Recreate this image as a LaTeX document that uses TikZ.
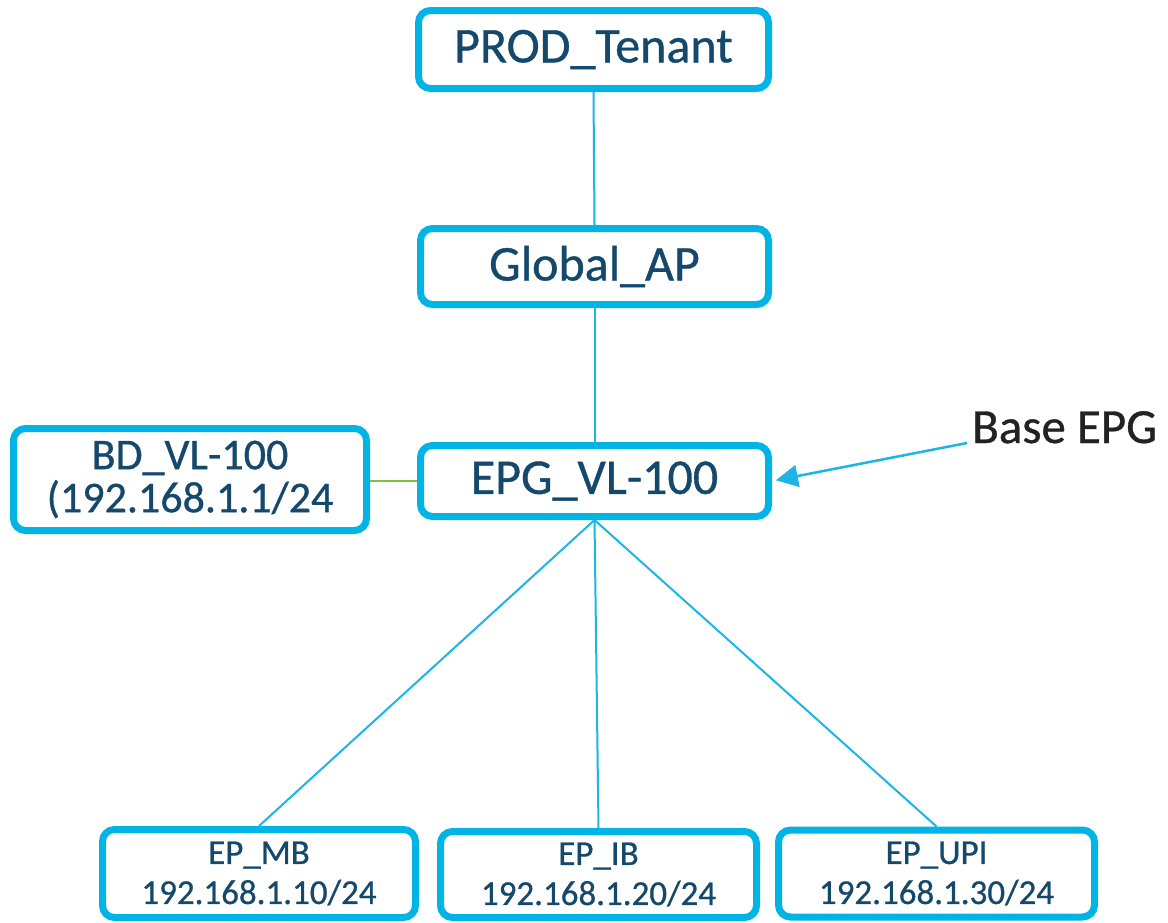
\documentclass[tikz,border=0pt]{standalone}
\usepackage{fontspec}
\setmainfont{Carlito}
\newfontfamily\heavyfont{Carlito}[FakeBold=0.7]
\usetikzlibrary{arrows.meta}
\definecolor{boxcyan}{HTML}{00B4E6}
\definecolor{linecyan}{HTML}{1CB5E6}
\definecolor{navytext}{HTML}{15496C}
\definecolor{linkgreen}{HTML}{7CC242}
\definecolor{labelgray}{HTML}{222222}
\tikzset{
  nodebox/.style={draw=boxcyan, line width=7pt, rounded corners=12pt, inner sep=0pt,
    text=navytext, align=center, fill=white},
  bigtext/.style={font=\heavyfont\fontsize{50}{54}\selectfont},
  bdtext/.style={font=\heavyfont\fontsize{44}{43}\selectfont},
  eptext/.style={font=\heavyfont\fontsize{35}{40}\selectfont},
  link/.style={draw=linecyan, line width=2pt},
  greenlink/.style={draw=linkgreen, line width=2pt},
}
\begin{document}
\begin{tikzpicture}[x=1pt,y=-1pt]
\useasboundingbox[fill=white] (0,0) rectangle (1168,922);
\node[nodebox,bigtext,minimum width=350pt,minimum height=78pt] (prod) at (593.5,49.5) {PROD\_Tenant};
\node[nodebox,bigtext,minimum width=348pt,minimum height=76pt] (global) at (594.5,266.5) {Global\_AP};
\node[nodebox,bigtext,minimum width=348pt,minimum height=71pt] (epg) at (594.5,481) {EPG\_VL-100};
\node[nodebox,bdtext,minimum width=353pt,minimum height=102pt] (bd) at (190,479.5) {BD\_VL-100\\(192.168.1.1/24};
\node[nodebox,eptext,minimum width=313pt,minimum height=88pt] (mb) at (259,873.5) {EP\_MB\\192.168.1.10/24};
\node[nodebox,eptext,minimum width=316pt,minimum height=86pt] (ib) at (598.5,874.5) {EP\_IB\\192.168.1.20/24};
\node[nodebox,eptext,minimum width=316pt,minimum height=87pt] (upi) at (936.5,873.5) {EP\_UPI\\192.168.1.30/24};
\node[anchor=base west,inner sep=0pt,text=labelgray,font=\heavyfont\fontsize{49}{52}\selectfont] (base) at (972,443) {Base EPG};
\coordinate (basetail) at (967,443);
\path[link] (prod.south) -- (global.north);
\path[link] (global.south) -- (epg.north);
\path[greenlink] (bd.east |- epg.west) -- (epg.west);
\path[link] (epg.south) -- (mb.north);
\path[link] (epg.south) -- (ib.north);
\path[link] (epg.south) -- (upi.north);
\path[link,line width=2.5pt,-{Triangle[length=22pt,width=22pt]},shorten >=4pt] (basetail) -- (epg.east);
\end{tikzpicture}
\end{document}
